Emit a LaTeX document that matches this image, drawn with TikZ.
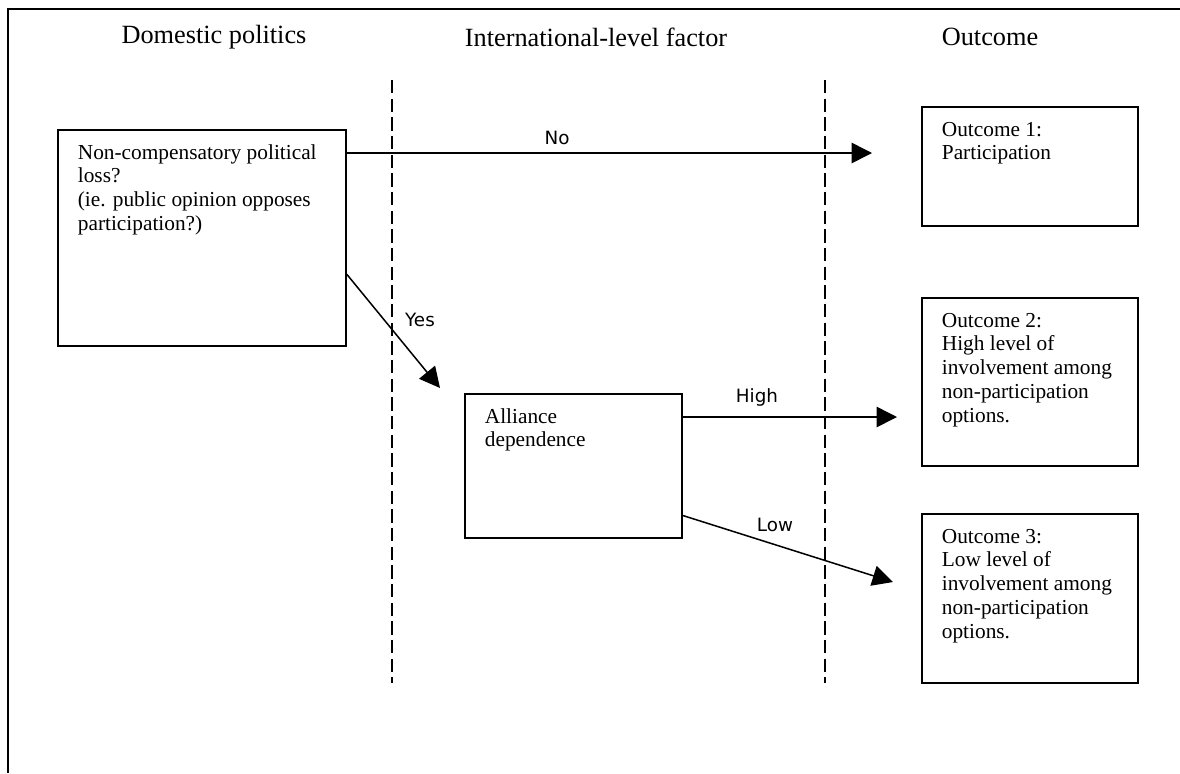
\documentclass[tikz,border=0pt]{standalone}
\usepackage{fontspec}
\setmainfont{Liberation Serif}
\newfontfamily\lblfont{DejaVu Sans}
\usetikzlibrary{arrows.meta,calc}

% top-aligned text inside a fixed-size box
\newcommand{\boxtext}[3]{%
  \begin{minipage}[t][#2][t]{#1}\fontsize{12}{13.4}\selectfont\raggedright
  \vspace*{7pt}\strut #3\end{minipage}}

\tikzset{
  factorbox/.style={draw, line width=1pt, anchor=north west, inner xsep=11.25pt, inner ysep=0pt},
  heading/.style={font=\fontsize{14.8}{17}\selectfont},
  branch/.style={line width=0.85pt, -{Triangle[length=11.5pt,width=11.5pt]}},
  branchlabel/.style={font=\lblfont\fontsize{10.3}{12}\selectfont},
  divider/.style={line width=0.8pt, dash pattern=on 7.5pt off 3pt}
}

\begin{document}
\begin{tikzpicture}[x=0.5625pt, y=-0.5625pt]
\useasboundingbox (0,0) rectangle (1180,773);
\draw[line width=1pt] (8,773) |- (1180,9);

% column headings
\node[heading] (domhead) at (214,37) {Domestic politics};
\node[heading] (inthead) at (596,37) {International-level factor};
\node[heading] (outhead) at (990,37) {Outcome};

% column dividers
\draw[divider] (392,80) -- (392,683);
\draw[divider] (825,80) -- (825,683);

% boxes
\node[factorbox] (dom) at (57,129) {\boxtext{139.5pt}{121.5pt}{Non-compensatory political\\loss?\\(ie. public opinion opposes\\participation?)}};
\node[factorbox] (ally) at (464,393) {\boxtext{99.5pt}{81pt}{Alliance\\dependence}};
\node[factorbox] (out1) at (921,106) {\boxtext{99pt}{67pt}{Outcome 1:\\Participation}};
\node[factorbox] (out2) at (921,297) {\boxtext{99pt}{94.5pt}{Outcome 2:\\High level of\\involvement among\\non-participation\\options.}};
\node[factorbox] (out3) at (921,513) {\boxtext{99pt}{95pt}{Outcome 3:\\Low level of\\involvement among\\non-participation\\options.}};

% branches
\coordinate (noend) at (872,153);
\coordinate (yesend) at (440,388);
\coordinate (highend) at (897,417);
\coordinate (lowend) at (893,582);
\draw[branch] (dom.east |- noend) -- (noend);
\draw[branch] ($(dom.south east)!0.333!(dom.north east)$) -- (yesend);
\draw[branch] (ally.east |- highend) -- (highend);
\draw[branch] ($(ally.south east)!0.16!(ally.north east)$) -- (lowend);

\node[branchlabel] (nolbl) at (557,138) {No};
\node[branchlabel] (yeslbl) at (420,320) {Yes};
\node[branchlabel] (highlbl) at (757,397) {High};
\node[branchlabel] (lowlbl) at (775,525) {Low};
\end{tikzpicture}
\end{document}
